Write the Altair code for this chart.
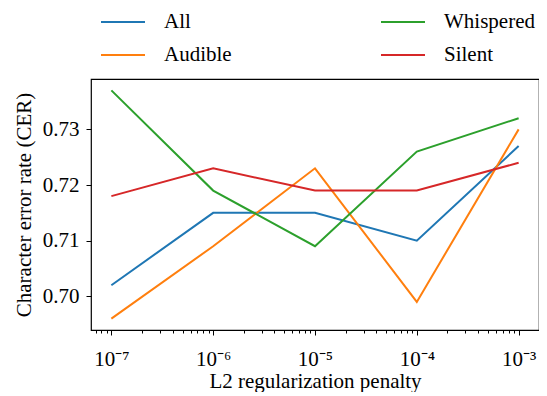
import altair as alt
import pandas as pd

penalties = [1e-7, 1e-6, 1e-5, 1e-4, 1e-3]
x_tick_labels = ["10⁻⁷", "10⁻⁶", "10⁻⁵", "10⁻⁴", "10⁻³"]
all_vals = [0.702, 0.715, 0.715, 0.710, 0.727]
audible_vals = [0.696, 0.709, 0.723, 0.699, 0.730]
whispered_vals = [0.737, 0.719, 0.709, 0.726, 0.732]
silent_vals = [0.718, 0.723, 0.719, 0.719, 0.724]
y_ticks = [0.70, 0.71, 0.72, 0.73]

series = {"All": all_vals, "Audible": audible_vals, "Whispered": whispered_vals, "Silent": silent_vals}
rows = []
for name, vals in series.items():
    for p, v in zip(penalties, vals):
        rows.append({"penalty": p, "cer": v, "set": name})
df = pd.DataFrame(rows)

minor = [m * 10.0 ** k for k in range(-8, -3) for m in range(2, 10)]
minor = [v for v in minor if 10 ** -7.2 <= v <= 10 ** -2.8]
tick_vals = sorted(penalties + minor)

label_expr = ""
for p, lab in zip(penalties, x_tick_labels):
    label_expr += f"abs(datum.value - {p!r}) < {p!r}*1e-6 ? '{lab}' : "
label_expr += "''"
major_test = " || ".join(f"abs(datum.value - {p!r}) < {p!r}*1e-6" for p in penalties)

FONT = "Liberation Serif"
FS = 21

chart = alt.Chart(df).mark_line(strokeWidth=2).encode(
    x=alt.X("penalty:Q",
            scale=alt.Scale(type="log", domain=[10 ** -7.2, 10 ** -2.8], nice=False),
            axis=alt.Axis(values=tick_vals, labelExpr=label_expr, title="L2 regularization penalty",
                          grid=False, domain=False, tickColor="black",
                          tickSize={"condition": {"test": major_test, "value": 5}, "value": 3},
                          labelFont=FONT, labelFontSize=FS, labelColor="black", labelPadding=13,
                          titleFont=FONT, titleFontSize=FS, titleFontWeight="normal", titleColor="black",
                          titlePadding=1, labelFlush=False, labelOverlap=False)),
    y=alt.Y("cer:Q",
            scale=alt.Scale(domain=[0.69395, 0.73905], nice=False, zero=False),
            axis=alt.Axis(values=y_ticks, format=".2f", title="Character error rate (CER)",
                          grid=False, domain=False, tickColor="black", tickSize=5,
                          labelFont=FONT, labelFontSize=FS, labelColor="black", labelPadding=7,
                          titleFont=FONT, titleFontSize=FS, titleFontWeight="normal", titleColor="black",
                          titlePadding=8)),
    color=alt.Color("set:N",
                    scale=alt.Scale(domain=["All", "Audible", "Whispered", "Silent"],
                                    range=["#1f77b4", "#ff7f0e", "#2ca02c", "#d62728"]),
                    legend=alt.Legend(orient="none", legendX=9, legendY=-80, columns=2, title=None,
                                      symbolType="stroke", symbolSize=1936, symbolStrokeWidth=2,
                                      labelFont=FONT, labelFontSize=FS, labelColor="black",
                                      labelOffset=18, columnPadding=145, rowPadding=-1)),
).properties(
    width=448, height=251,
    autosize=alt.AutoSizeParams(type="none"),
    padding={"left": 83, "top": 71, "right": 0, "bottom": 62},
).configure_view(stroke="black", strokeWidth=1.2)

chart.save("out.html", embed_options={"renderer": "svg", "actions": False})
